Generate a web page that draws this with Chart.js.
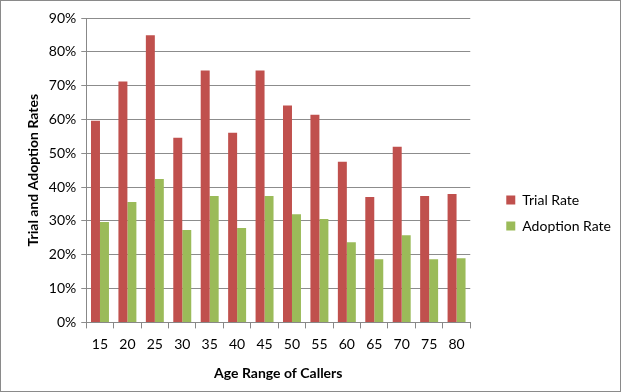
<!DOCTYPE html>
<html><head><meta charset="utf-8">
<script src="https://cdn.jsdelivr.net/npm/chart.js@4/dist/chart.umd.min.js"></script>
<style>
html,body{margin:0;padding:0;background:#fff;}
#wrap{width:621px;height:392px;box-sizing:border-box;border:1px solid #8a8a8a;position:relative;}
canvas{display:block;}
</style></head>
<body>
<div id="wrap"><canvas id="c" width="619" height="390"></canvas></div>
<script>
const categories = ["15","20","25","30","35","40","45","50","55","60","65","70","75","80"];
const trialRate = [59.6, 71.2, 84.9, 54.6, 74.5, 56.1, 74.5, 64.1, 61.4, 47.5, 37.1, 51.9, 37.4, 38.0];
const adoptionRate = [29.7, 35.6, 42.4, 27.3, 37.4, 27.9, 37.4, 32.0, 30.6, 23.7, 18.7, 25.8, 18.7, 19.0];
const yTicks = [0,10,20,30,40,50,60,70,80,90];

const FONT = "Lato, 'Open Sans', sans-serif";
const FS = 14;

// shift legend block to match reference placement
const legendShift = {
  id: 'legendShift',
  afterUpdate(chart) {
    const lg = chart.legend;
    if (!lg) return;
    const dx = 24, dy = 13;
    lg.left += dx; lg.right += dx; lg.top += dy; lg.bottom += dy;
    if (lg.adjustHitBoxes) lg.adjustHitBoxes();
  }
};

new Chart(document.getElementById('c'), {
  type: 'bar',
  data: {
    labels: categories,
    datasets: [
      {label: 'Trial Rate', data: trialRate, backgroundColor: '#C0504D', borderWidth: 0},
      {label: 'Adoption Rate', data: adoptionRate, backgroundColor: '#9BBB59', borderWidth: 0}
    ]
  },
  plugins: [legendShift],
  options: {
    responsive: false,
    animation: false,
    devicePixelRatio: 1,
    datasets: {bar: {categoryPercentage: 0.655, barPercentage: 1.0}},
    layout: {padding: {left: 24, right: 23, top: 17, bottom: 9}},
    plugins: {
      legend: {
        position: 'right',
        align: 'center',
        labels: {boxWidth: 9, boxHeight: 9, padding: 12, color: '#000', font: {family: FONT, size: FS}}
      },
      tooltip: {enabled: false}
    },
    scales: {
      x: {
        offset: true,
        grid: {offset: true, drawOnChartArea: false, drawTicks: true, tickLength: 6, color: '#888'},
        border: {color: '#888', width: 1},
        ticks: {color: '#000', font: {family: FONT, size: FS}, padding: 8, maxRotation: 0},
        title: {display: true, text: 'Age Range of Callers', color: '#000', font: {family: FONT, size: FS, weight: 'bold'}, padding: {top: 4, bottom: 0}}
      },
      y: {
        min: 0, max: 90,
        afterBuildTicks: (axis) => { axis.ticks = yTicks.map(v => ({value: v})); },
        grid: {color: '#8c8c8c', lineWidth: 1, drawTicks: true, tickLength: 5},
        border: {color: '#888', width: 1},
        ticks: {color: '#000', font: {family: FONT, size: FS}, padding: 5, callback: (v) => v + '%'},
        title: {display: true, text: 'Trial and Adoption Rates', color: '#000', font: {family: FONT, size: FS, weight: 'bold'}, padding: {top: 0, bottom: 2}}
      }
    }
  }
});
</script>
</body></html>
